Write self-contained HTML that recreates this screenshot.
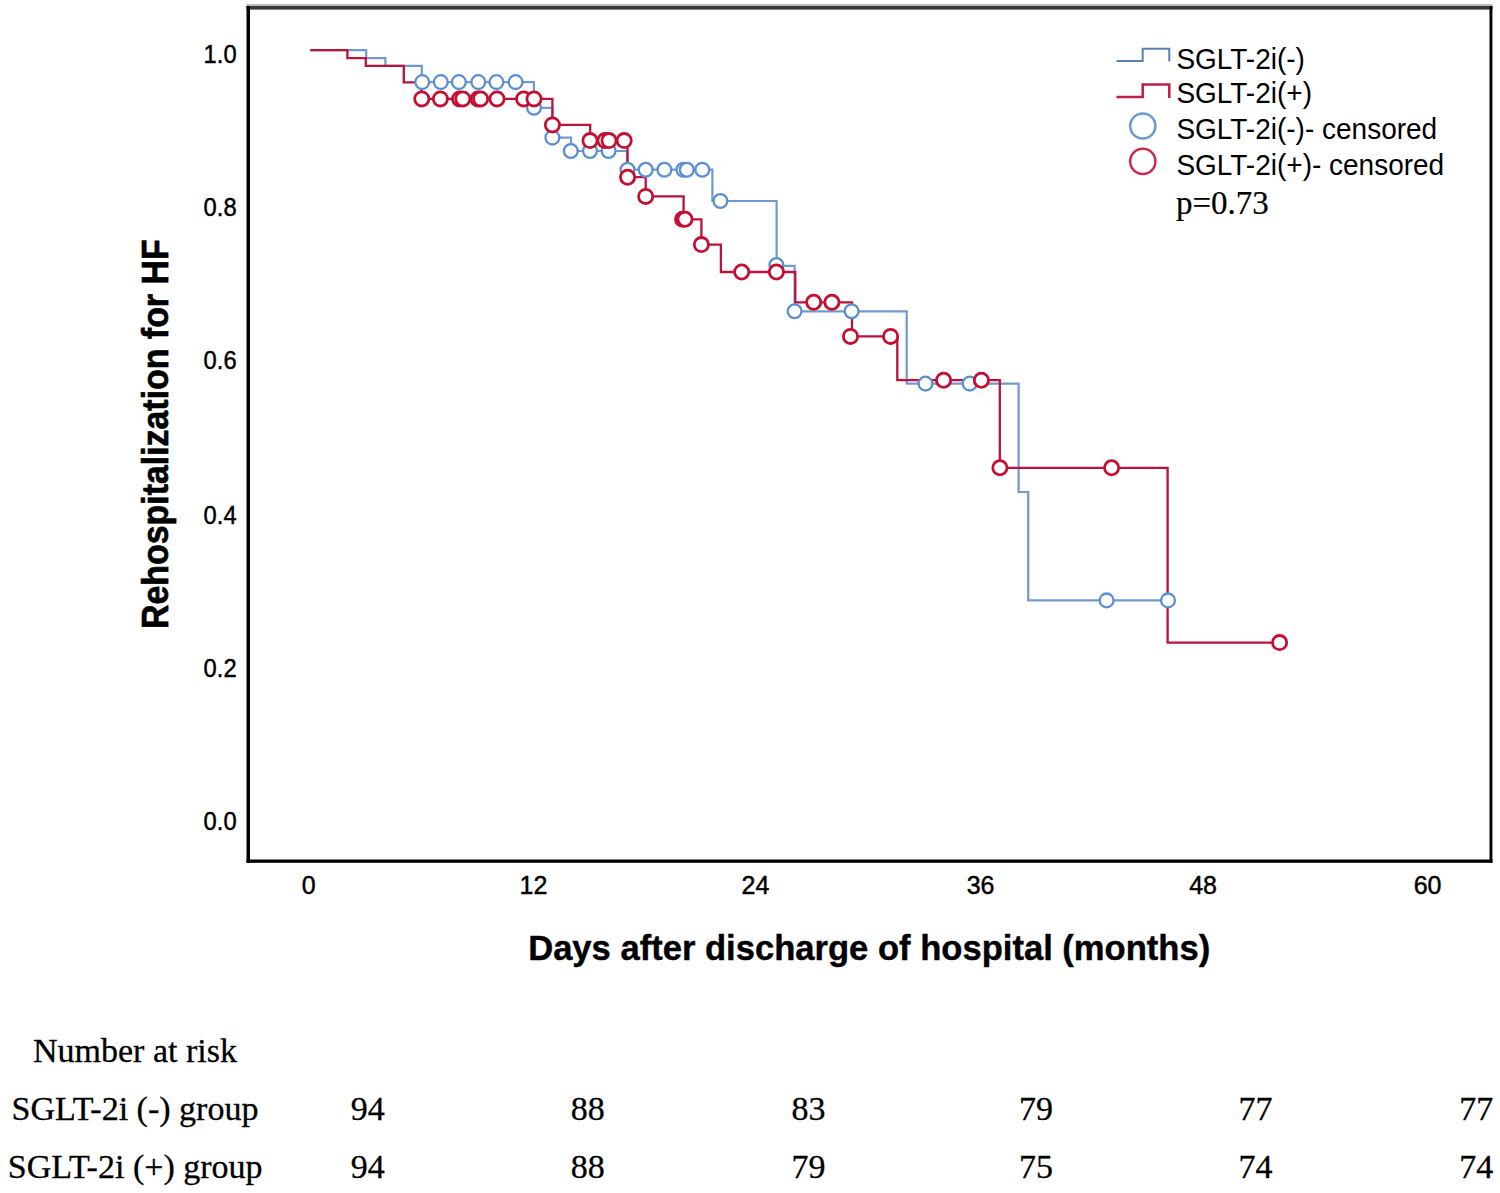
<!DOCTYPE html>
<html><head><meta charset="utf-8"><title>Kaplan-Meier</title>
<style>
html,body{margin:0;padding:0;background:#fff;}
body{width:1500px;height:1193px;overflow:hidden;}
svg{display:block;}
.tk{font-family:"Liberation Sans",sans-serif;font-size:25px;fill:#000;stroke:#000;stroke-width:0.45px;}
.ttl{font-family:"Liberation Sans",sans-serif;font-size:34.6px;font-weight:bold;fill:#000;stroke:#000;stroke-width:0.4px;}
.ttl2{font-family:"Liberation Sans",sans-serif;font-size:33.9px;font-weight:bold;fill:#000;stroke:#000;stroke-width:0.6px;}
.lg{font-family:"Liberation Sans",sans-serif;font-size:28px;fill:#000;}
.pv{font-family:"Liberation Serif",serif;font-size:33px;fill:#000;stroke:#000;stroke-width:0.2px;}
.tb{font-family:"Liberation Serif",serif;font-size:34px;fill:#000;stroke:#000;stroke-width:0.3px;}
</style></head>
<body>
<svg width="1500" height="1193" viewBox="0 0 1500 1193">
<rect width="1500" height="1193" fill="#fff"/>
<rect x="246.5" y="4.0" width="1246" height="2.0" fill="#bcbcbc"/>
<rect x="246.5" y="6.0" width="1246" height="3.6" fill="#383838"/>
<rect x="246.5" y="6.0" width="3.5" height="856.8" fill="#000"/>
<rect x="1489.5" y="6.0" width="2.9" height="856.8" fill="#000"/>
<rect x="246.5" y="859.5" width="1246" height="3.3" fill="#000"/>
<text transform="translate(236.6 63.0) scale(0.95 1)" class="tk" text-anchor="end">1.0</text>
<text transform="translate(236.6 216.3) scale(0.95 1)" class="tk" text-anchor="end">0.8</text>
<text transform="translate(236.6 368.7) scale(0.95 1)" class="tk" text-anchor="end">0.6</text>
<text transform="translate(236.6 524.1) scale(0.95 1)" class="tk" text-anchor="end">0.4</text>
<text transform="translate(236.6 676.7) scale(0.95 1)" class="tk" text-anchor="end">0.2</text>
<text transform="translate(236.6 829.5) scale(0.95 1)" class="tk" text-anchor="end">0.0</text>
<text x="308.6" y="894.3" class="tk" text-anchor="middle">0</text>
<text x="533.4" y="894.3" class="tk" text-anchor="middle">12</text>
<text x="755.5" y="894.3" class="tk" text-anchor="middle">24</text>
<text x="980.6" y="894.3" class="tk" text-anchor="middle">36</text>
<text x="1203.1" y="894.3" class="tk" text-anchor="middle">48</text>
<text x="1427.6" y="894.3" class="tk" text-anchor="middle">60</text>
<text x="869.2" y="959.6" class="ttl" text-anchor="middle">Days after discharge of hospital (months)</text>
<text transform="translate(167.9 434.2) rotate(-90) scale(1 1.09)" x="0" y="0" class="ttl2" text-anchor="middle">Rehospitalization for HF</text>
<path d="M310.3 50.2H366.2V58.1H385.4V65.9H421.8V82.1H533.9V107.8H552.4V137.6H571.0V151.0H627.3V169.7H712.4V201.0H776.6V265.8H794.6V311.3H906.7V383.6H1018.6V492.0H1028.2V600.4H1168.0" fill="none" stroke="#7399cc" stroke-width="2.2"/>
<path d="M310.3 50.2H347.4V58.1H365.8V65.9H403.8V82.3H421.5V98.9H552.4V124.9H590.2V140.6H627.5V177.2H645.7V196.4H683.6V219.3H701.4V244.6H720.9V272.0H795.3V302.3H852.0V336.4H897.3V380.2H999.8V467.8H1167.6V642.6H1279.6" fill="none" stroke="#b8123e" stroke-width="2.3"/>
<circle cx="422.2" cy="82.1" r="6.9" fill="#fff" stroke="#5c8fd2" stroke-width="2.3"/>
<circle cx="440.8" cy="82.1" r="6.9" fill="#fff" stroke="#5c8fd2" stroke-width="2.3"/>
<circle cx="458.9" cy="82.1" r="6.9" fill="#fff" stroke="#5c8fd2" stroke-width="2.3"/>
<circle cx="478.3" cy="82.1" r="6.9" fill="#fff" stroke="#5c8fd2" stroke-width="2.3"/>
<circle cx="496.4" cy="82.1" r="6.9" fill="#fff" stroke="#5c8fd2" stroke-width="2.3"/>
<circle cx="515.6" cy="82.1" r="6.9" fill="#fff" stroke="#5c8fd2" stroke-width="2.3"/>
<circle cx="534.0" cy="107.8" r="6.9" fill="#fff" stroke="#5c8fd2" stroke-width="2.3"/>
<circle cx="552.4" cy="137.6" r="6.9" fill="#fff" stroke="#5c8fd2" stroke-width="2.3"/>
<circle cx="570.8" cy="151.0" r="6.9" fill="#fff" stroke="#5c8fd2" stroke-width="2.3"/>
<circle cx="590.0" cy="151.0" r="6.9" fill="#fff" stroke="#5c8fd2" stroke-width="2.3"/>
<circle cx="608.6" cy="151.0" r="6.9" fill="#fff" stroke="#5c8fd2" stroke-width="2.3"/>
<circle cx="627.5" cy="169.7" r="6.9" fill="#fff" stroke="#5c8fd2" stroke-width="2.3"/>
<circle cx="645.7" cy="169.7" r="6.9" fill="#fff" stroke="#5c8fd2" stroke-width="2.3"/>
<circle cx="664.4" cy="169.7" r="6.9" fill="#fff" stroke="#5c8fd2" stroke-width="2.3"/>
<circle cx="683.4" cy="169.7" r="6.9" fill="#fff" stroke="#5c8fd2" stroke-width="2.3"/>
<circle cx="686.8" cy="169.7" r="6.9" fill="#fff" stroke="#5c8fd2" stroke-width="2.3"/>
<circle cx="702.3" cy="169.7" r="6.9" fill="#fff" stroke="#5c8fd2" stroke-width="2.3"/>
<circle cx="720.4" cy="201.0" r="6.9" fill="#fff" stroke="#5c8fd2" stroke-width="2.3"/>
<circle cx="776.4" cy="265.0" r="6.9" fill="#fff" stroke="#5c8fd2" stroke-width="2.3"/>
<circle cx="794.6" cy="311.3" r="6.9" fill="#fff" stroke="#5c8fd2" stroke-width="2.3"/>
<circle cx="851.6" cy="311.3" r="6.9" fill="#fff" stroke="#5c8fd2" stroke-width="2.3"/>
<circle cx="925.5" cy="383.6" r="6.9" fill="#fff" stroke="#5c8fd2" stroke-width="2.3"/>
<circle cx="969.7" cy="383.6" r="6.9" fill="#fff" stroke="#5c8fd2" stroke-width="2.3"/>
<circle cx="1106.6" cy="600.4" r="6.9" fill="#fff" stroke="#5c8fd2" stroke-width="2.3"/>
<circle cx="1168.0" cy="600.4" r="6.9" fill="#fff" stroke="#5c8fd2" stroke-width="2.3"/>
<circle cx="421.8" cy="98.9" r="7.1" fill="#fff" stroke="#c40f32" stroke-width="2.8"/>
<circle cx="440.4" cy="98.9" r="7.1" fill="#fff" stroke="#c40f32" stroke-width="2.8"/>
<circle cx="459.6" cy="98.9" r="7.1" fill="#fff" stroke="#c40f32" stroke-width="2.8"/>
<circle cx="462.8" cy="98.9" r="7.1" fill="#fff" stroke="#c40f32" stroke-width="2.8"/>
<circle cx="478.0" cy="98.9" r="7.1" fill="#fff" stroke="#c40f32" stroke-width="2.8"/>
<circle cx="480.6" cy="98.9" r="7.1" fill="#fff" stroke="#c40f32" stroke-width="2.8"/>
<circle cx="497.0" cy="98.9" r="7.1" fill="#fff" stroke="#c40f32" stroke-width="2.8"/>
<circle cx="523.6" cy="98.9" r="7.1" fill="#fff" stroke="#c40f32" stroke-width="2.8"/>
<circle cx="534.0" cy="98.9" r="7.1" fill="#fff" stroke="#c40f32" stroke-width="2.8"/>
<circle cx="552.4" cy="124.9" r="7.1" fill="#fff" stroke="#c40f32" stroke-width="2.8"/>
<circle cx="590.0" cy="140.6" r="7.1" fill="#fff" stroke="#c40f32" stroke-width="2.8"/>
<circle cx="605.0" cy="140.6" r="7.1" fill="#fff" stroke="#c40f32" stroke-width="2.8"/>
<circle cx="609.0" cy="140.6" r="7.1" fill="#fff" stroke="#c40f32" stroke-width="2.8"/>
<circle cx="624.2" cy="140.6" r="7.1" fill="#fff" stroke="#c40f32" stroke-width="2.8"/>
<circle cx="627.6" cy="177.2" r="7.1" fill="#fff" stroke="#c40f32" stroke-width="2.8"/>
<circle cx="645.7" cy="196.4" r="7.1" fill="#fff" stroke="#c40f32" stroke-width="2.8"/>
<circle cx="682.6" cy="219.3" r="7.1" fill="#fff" stroke="#c40f32" stroke-width="2.8"/>
<circle cx="685.0" cy="219.3" r="7.1" fill="#fff" stroke="#c40f32" stroke-width="2.8"/>
<circle cx="701.4" cy="244.6" r="7.1" fill="#fff" stroke="#c40f32" stroke-width="2.8"/>
<circle cx="741.7" cy="272.0" r="7.1" fill="#fff" stroke="#c40f32" stroke-width="2.8"/>
<circle cx="776.4" cy="272.0" r="7.1" fill="#fff" stroke="#c40f32" stroke-width="2.8"/>
<circle cx="813.7" cy="302.3" r="7.1" fill="#fff" stroke="#c40f32" stroke-width="2.8"/>
<circle cx="831.9" cy="302.3" r="7.1" fill="#fff" stroke="#c40f32" stroke-width="2.8"/>
<circle cx="850.5" cy="336.4" r="7.1" fill="#fff" stroke="#c40f32" stroke-width="2.8"/>
<circle cx="890.6" cy="336.4" r="7.1" fill="#fff" stroke="#c40f32" stroke-width="2.8"/>
<circle cx="943.6" cy="380.2" r="7.1" fill="#fff" stroke="#c40f32" stroke-width="2.8"/>
<circle cx="981.4" cy="380.2" r="7.1" fill="#fff" stroke="#c40f32" stroke-width="2.8"/>
<circle cx="999.9" cy="467.8" r="7.1" fill="#fff" stroke="#c40f32" stroke-width="2.8"/>
<circle cx="1111.6" cy="467.8" r="7.1" fill="#fff" stroke="#c40f32" stroke-width="2.8"/>
<circle cx="1279.6" cy="642.6" r="7.1" fill="#fff" stroke="#c40f32" stroke-width="2.8"/>
<path d="M1116.5 61.1H1142.7V48.8H1169.3V61.6" fill="none" stroke="#5a7fb5" stroke-width="2"/>
<path d="M1116.5 96.9H1142.7V84.6H1169.3V98.1" fill="none" stroke="#c01c48" stroke-width="2.5"/>
<circle cx="1142.8" cy="126.0" r="12.6" fill="none" stroke="#6a98d2" stroke-width="2.5"/>
<circle cx="1142.8" cy="161.4" r="12.6" fill="none" stroke="#cc2a50" stroke-width="2.5"/>
<text transform="translate(1176.4 68.5) scale(1 1.08)" x="0" y="0" class="lg">SGLT-2i(-)</text>
<text transform="translate(1176.4 102.5) scale(1 1.08)" x="0" y="0" class="lg">SGLT-2i(+)</text>
<text transform="translate(1176.4 139.2) scale(1 1.08)" x="0" y="0" class="lg">SGLT-2i(-)- censored</text>
<text transform="translate(1176.4 174.9) scale(1 1.08)" x="0" y="0" class="lg">SGLT-2i(+)- censored</text>
<text x="1176.0" y="213.5" class="pv">p=0.73</text>
<text x="135" y="1061.5" class="tb" text-anchor="middle">Number at risk</text>
<text x="135" y="1119.8" class="tb" text-anchor="middle">SGLT-2i (-) group</text>
<text x="135.2" y="1178.0" class="tb" text-anchor="middle">SGLT-2i (+) group</text>
<text x="367.8" y="1119.9" class="tb" text-anchor="middle">94</text>
<text x="367.8" y="1177.9" class="tb" text-anchor="middle">94</text>
<text x="587.8" y="1119.9" class="tb" text-anchor="middle">88</text>
<text x="587.8" y="1177.9" class="tb" text-anchor="middle">88</text>
<text x="808.5" y="1119.9" class="tb" text-anchor="middle">83</text>
<text x="808.5" y="1177.9" class="tb" text-anchor="middle">79</text>
<text x="1036.0" y="1119.9" class="tb" text-anchor="middle">79</text>
<text x="1036.0" y="1177.9" class="tb" text-anchor="middle">75</text>
<text x="1255.5" y="1119.9" class="tb" text-anchor="middle">77</text>
<text x="1255.5" y="1177.9" class="tb" text-anchor="middle">74</text>
<text x="1476.2" y="1119.9" class="tb" text-anchor="middle">77</text>
<text x="1476.2" y="1177.9" class="tb" text-anchor="middle">74</text>
</svg>
</body></html>
